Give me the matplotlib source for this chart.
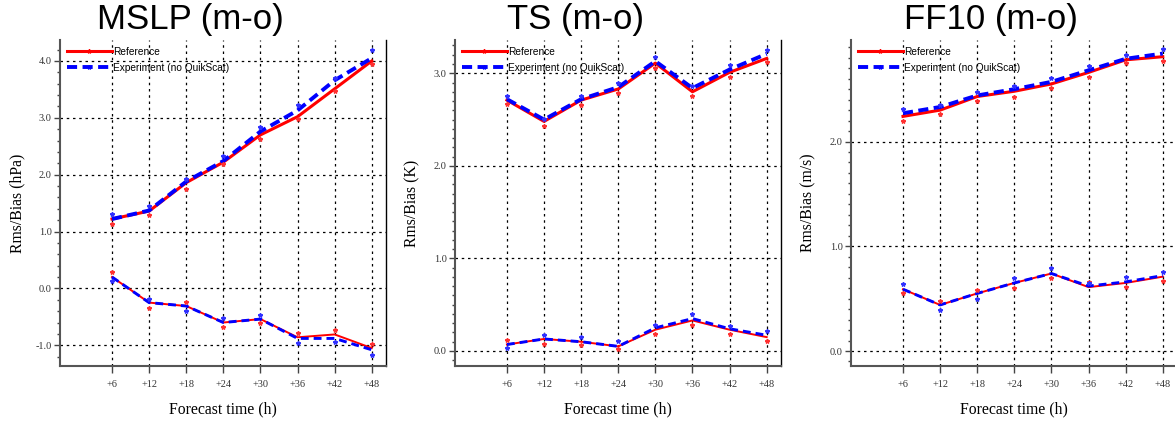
import matplotlib
matplotlib.use('Agg')
import matplotlib.pyplot as plt
from matplotlib.ticker import MultipleLocator, FormatStrFormatter
from matplotlib.lines import Line2D
from matplotlib.legend_handler import HandlerLine2D

plt.rcParams['axes.unicode_minus'] = False

# Forecast lead times
hours = [6, 12, 18, 24, 30, 36, 42, 48]
hour_labels = ['+6', '+12', '+18', '+24', '+30', '+36', '+42', '+48']

# MSLP (hPa)
mslp_rms_ref = [1.22, 1.36, 1.86, 2.22, 2.70, 3.02, 3.51, 4.00]
mslp_rms_exp = [1.22, 1.37, 1.88, 2.24, 2.76, 3.13, 3.66, 4.05]
mslp_bias_ref = [0.20, -0.25, -0.31, -0.60, -0.54, -0.86, -0.81, -1.05]
mslp_bias_exp = [0.20, -0.25, -0.31, -0.60, -0.54, -0.88, -0.88, -1.08]
mslp_rms_ref_pts = [1.13, 1.29, 1.75, 2.19, 2.63, 2.98, 3.48, 3.95]
mslp_rms_exp_pts = [1.30, 1.45, 1.92, 2.33, 2.83, 3.22, 3.70, 4.19]
mslp_bias_ref_pts = [0.29, -0.34, -0.24, -0.68, -0.61, -0.78, -0.74, -0.97]
mslp_bias_exp_pts = [0.13, -0.19, -0.39, -0.52, -0.46, -0.96, -0.94, -1.18]

# TS (K)
ts_rms_ref = [2.71, 2.48, 2.71, 2.83, 3.11, 2.80, 3.01, 3.16]
ts_rms_exp = [2.72, 2.50, 2.72, 2.85, 3.13, 2.84, 3.04, 3.21]
ts_bias_ref = [0.07, 0.13, 0.10, 0.05, 0.23, 0.33, 0.23, 0.15]
ts_bias_exp = [0.07, 0.13, 0.10, 0.05, 0.25, 0.35, 0.24, 0.17]
ts_rms_ref_pts = [2.67, 2.43, 2.66, 2.79, 3.06, 2.75, 2.96, 3.12]
ts_rms_exp_pts = [2.75, 2.51, 2.75, 2.89, 3.18, 2.86, 3.09, 3.25]
ts_bias_ref_pts = [0.12, 0.08, 0.07, 0.02, 0.18, 0.28, 0.18, 0.11]
ts_bias_exp_pts = [0.03, 0.17, 0.15, 0.11, 0.28, 0.40, 0.27, 0.22]

# FF10 (m/s)
ff_rms_ref = [2.24, 2.30, 2.43, 2.48, 2.55, 2.66, 2.78, 2.81]
ff_rms_exp = [2.27, 2.33, 2.44, 2.50, 2.57, 2.68, 2.79, 2.84]
ff_bias_ref = [0.59, 0.44, 0.55, 0.65, 0.74, 0.61, 0.65, 0.71]
ff_bias_exp = [0.59, 0.44, 0.55, 0.65, 0.74, 0.62, 0.66, 0.72]
ff_rms_ref_pts = [2.20, 2.26, 2.39, 2.43, 2.51, 2.62, 2.75, 2.77]
ff_rms_exp_pts = [2.31, 2.35, 2.47, 2.53, 2.61, 2.72, 2.83, 2.88]
ff_bias_ref_pts = [0.55, 0.48, 0.58, 0.60, 0.70, 0.66, 0.61, 0.67]
ff_bias_exp_pts = [0.64, 0.39, 0.50, 0.70, 0.79, 0.65, 0.71, 0.75]

panels = [
    ('MSLP (m-o)', 'Rms/Bias (hPa)', (-1.365, 4.37), 0.2, 0.40,
     mslp_rms_ref, mslp_rms_exp, mslp_bias_ref, mslp_bias_exp,
     mslp_rms_ref_pts, mslp_rms_exp_pts, mslp_bias_ref_pts, mslp_bias_exp_pts),
    ('TS (m-o)', 'Rms/Bias (K)', (-0.162, 3.36), 0.1, 0.37,
     ts_rms_ref, ts_rms_exp, ts_bias_ref, ts_bias_exp,
     ts_rms_ref_pts, ts_rms_exp_pts, ts_bias_ref_pts, ts_bias_exp_pts),
    ('FF10 (m-o)', 'Rms/Bias (m/s)', (-0.143, 2.97), 0.1, 0.43,
     ff_rms_ref, ff_rms_exp, ff_bias_ref, ff_bias_exp,
     ff_rms_ref_pts, ff_rms_exp_pts, ff_bias_ref_pts, ff_bias_exp_pts),
]

lefts = [0.0511, 0.3872, 0.7243]


# legend handle with the star sitting at the right end of the line
class EndMarkerHandler(HandlerLine2D):
    def get_xdata(self, legend, xdescent, ydescent, width, height, fontsize):
        xdata = [-xdescent, -xdescent + width]
        return xdata, [-xdescent + width]


fig = plt.figure(figsize=(11.75, 4.24), dpi=100)

for i, p in enumerate(panels):
    (title, ylabel, ylim, minor, tx,
     rms_ref, rms_exp, bias_ref, bias_exp,
     rms_ref_pts, rms_exp_pts, bias_ref_pts, bias_exp_pts) = p
    ax = fig.add_axes([lefts[i], 0.1368, 0.2774, 0.769])

    ax.plot(hours, rms_ref, color='#ff0000', lw=2.2, zorder=3)
    ax.plot(hours, rms_exp, color='#0000ff', lw=2.8, ls=(0, (2.6, 1.4)), zorder=4)
    ax.plot(hours, bias_ref, color='#ff0000', lw=1.4, zorder=3)
    ax.plot(hours, bias_exp, color='#0000ff', lw=2.1, ls=(0, (2.7, 1.7)), zorder=4)
    ax.plot(hours, rms_ref_pts, ls='none', marker='*', ms=3.2, color='#ff3030', zorder=5)
    ax.plot(hours, rms_exp_pts, ls='none', marker='*', ms=3.2, color='#3030ff', zorder=5)
    ax.plot(hours, bias_ref_pts, ls='none', marker='*', ms=3.2, color='#ff3030', zorder=5)
    ax.plot(hours, bias_exp_pts, ls='none', marker='*', ms=3.2, color='#3030ff', zorder=5)

    ax.set_xlim(-2.4, 50.3)
    ax.set_ylim(*ylim)
    ax.set_xticks(hours)
    ax.set_xticklabels(hour_labels)
    ax.yaxis.set_major_locator(MultipleLocator(1.0))
    ax.yaxis.set_minor_locator(MultipleLocator(minor))
    ax.yaxis.set_major_formatter(FormatStrFormatter('%.1f'))

    ax.grid(True, which='major', color='black', lw=0.9, ls=(0, (2, 3)), zorder=1)

    for lab in ax.get_xticklabels() + ax.get_yticklabels():
        lab.set_fontfamily('Liberation Serif')
        lab.set_fontsize(7.4)
        lab.set_color('#333333')
    ax.tick_params(axis='y', which='major', direction='out', length=4, width=1, color='#444444', pad=2)
    ax.tick_params(axis='y', which='minor', direction='out', length=2.5, width=1, color='#444444')
    ax.tick_params(axis='x', which='major', direction='out', length=5, width=1, color='#444444', pad=5)

    ax.spines['top'].set_visible(False)
    ax.spines['left'].set_color('#555555')
    ax.spines['left'].set_linewidth(1.5)
    ax.spines['bottom'].set_color('#555555')
    ax.spines['bottom'].set_linewidth(1.5)
    ax.spines['right'].set_color('black')
    ax.spines['right'].set_linewidth(1.0)

    ax.set_ylabel(ylabel, family='Liberation Serif', fontsize=11.3)
    ax.yaxis.set_label_coords(-0.105, 0.5)
    ax.set_xlabel('Forecast time (h)', family='Liberation Serif', fontsize=11.3)
    ax.xaxis.set_label_coords(0.5, -0.11)
    ax.set_title(title, family='Liberation Sans', fontsize=25, x=tx, pad=8)

    h_ref = Line2D([], [], color='#ff0000', lw=2.2, marker='*', ms=3)
    h_exp = Line2D([], [], color='#0000ff', lw=2.8, ls=(0, (2.6, 1.4)), marker='*', ms=3)
    ax.legend([h_ref, h_exp], ['Reference', 'Experiment (no QuikScat)'],
              handler_map={Line2D: EndMarkerHandler()},
              loc='upper left', bbox_to_anchor=(0.0, 1.0), frameon=False,
              prop={'family': 'Liberation Sans', 'size': 7.3},
              handlelength=4.4, handletextpad=0.15, labelspacing=0.55,
              borderaxespad=0.4, borderpad=0.3)

fig.savefig('out.png', dpi=100)
